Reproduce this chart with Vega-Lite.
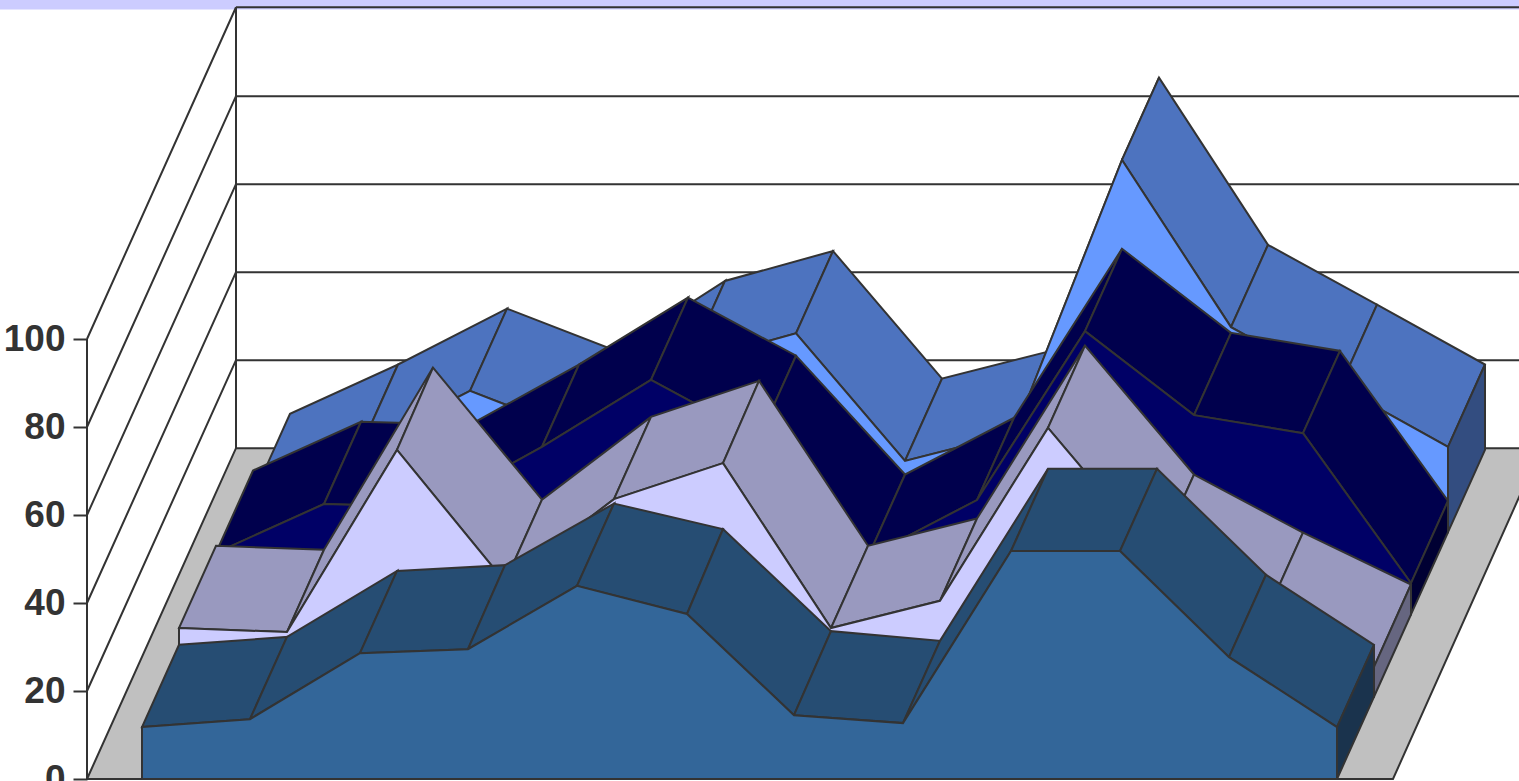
{"$schema":"https://vega.github.io/schema/vega-lite/v6.json","width":1519,"height":781,"autosize":"none","padding":0,"background":"#ffffff","view":{"stroke":null},
"data":{"values":[
{"f":"w00","k":"band","x":-5,"y":174.9},{"f":"w00","k":"band","x":1525,"y":174.9},{"f":"w00","k":"band","x":1525,"y":179},{"f":"w00","k":"band","x":-5,"y":179},
{"f":"w01","k":"floor","x":87,"y":0},{"f":"w01","k":"floor","x":236,"y":75.2},{"f":"w01","k":"floor","x":1541,"y":75.2},{"f":"w01","k":"floor","x":1393,"y":0},
{"f":"w02","k":"wall","x":87,"y":0},{"f":"w02","k":"wall","x":87,"y":100},
{"f":"w03","k":"wall","x":236,"y":75.2},{"f":"w03","k":"wall","x":236,"y":175.4},
{"f":"w04","k":"wall","x":87,"y":20},{"f":"w04","k":"wall","x":236,"y":95.2},
{"f":"w05","k":"wall","x":87,"y":40},{"f":"w05","k":"wall","x":236,"y":115.2},
{"f":"w06","k":"wall","x":87,"y":60},{"f":"w06","k":"wall","x":236,"y":135.2},
{"f":"w07","k":"wall","x":87,"y":80},{"f":"w07","k":"wall","x":236,"y":155.2},
{"f":"w08","k":"wall","x":87,"y":100},{"f":"w08","k":"wall","x":236,"y":175.4},
{"f":"w09","k":"wall","x":236,"y":95.2},{"f":"w09","k":"wall","x":1541,"y":95.2},
{"f":"w10","k":"wall","x":236,"y":115.2},{"f":"w10","k":"wall","x":1541,"y":115.2},
{"f":"w11","k":"wall","x":236,"y":135.2},{"f":"w11","k":"wall","x":1541,"y":135.2},
{"f":"w12","k":"wall","x":236,"y":155.2},{"f":"w12","k":"wall","x":1541,"y":155.2},
{"f":"w13","k":"wall","x":236,"y":175.4},{"f":"w13","k":"wall","x":1541,"y":175.4},

{"f":"d01","k":"Dt","x":253,"y":64.3},{"f":"d01","k":"Dt","x":361,"y":75.5},{"f":"d01","k":"Dt","x":398,"y":94.2},{"f":"d01","k":"Dt","x":290,"y":83.0},
{"f":"d02","k":"Dt","x":361,"y":75.5},{"f":"d02","k":"Dt","x":470,"y":88.2},{"f":"d02","k":"Dt","x":507,"y":106.9},{"f":"d02","k":"Dt","x":398,"y":94.2},
{"f":"d03","k":"Dt","x":470,"y":88.2},{"f":"d03","k":"Dt","x":579,"y":78.6},{"f":"d03","k":"Dt","x":616,"y":97.3},{"f":"d03","k":"Dt","x":507,"y":106.9},
{"f":"d04","k":"Dt","x":579,"y":78.6},{"f":"d04","k":"Dt","x":688,"y":94.5},{"f":"d04","k":"Dt","x":725,"y":113.2},{"f":"d04","k":"Dt","x":616,"y":97.3},
{"f":"d05","k":"Dt","x":688,"y":94.5},{"f":"d05","k":"Dt","x":796,"y":101.3},{"f":"d05","k":"Dt","x":833,"y":120},{"f":"d05","k":"Dt","x":725,"y":113.2},
{"f":"d06","k":"Dt","x":796,"y":101.3},{"f":"d06","k":"Dt","x":905,"y":72.3},{"f":"d06","k":"Dt","x":942,"y":91.0},{"f":"d06","k":"Dt","x":833,"y":120},
{"f":"d07","k":"Dt","x":905,"y":72.3},{"f":"d07","k":"Dt","x":1014,"y":78.6},{"f":"d07","k":"Dt","x":1051,"y":97.3},{"f":"d07","k":"Dt","x":942,"y":91.0},
{"f":"d08","k":"Dt","x":1014,"y":78.6},{"f":"d08","k":"Dt","x":1122,"y":140.7},{"f":"d08","k":"Dt","x":1159,"y":159.4},{"f":"d08","k":"Dt","x":1051,"y":97.3},
{"f":"d09","k":"Dt","x":1122,"y":140.7},{"f":"d09","k":"Dt","x":1231,"y":102.7},{"f":"d09","k":"Dt","x":1268,"y":121.4},{"f":"d09","k":"Dt","x":1159,"y":159.4},
{"f":"d10","k":"Dt","x":1231,"y":102.7},{"f":"d10","k":"Dt","x":1340,"y":89.1},{"f":"d10","k":"Dt","x":1377,"y":107.8},{"f":"d10","k":"Dt","x":1268,"y":121.4},
{"f":"d11","k":"Dt","x":1340,"y":89.1},{"f":"d11","k":"Dt","x":1448,"y":75.5},{"f":"d11","k":"Dt","x":1485,"y":94.2},{"f":"d11","k":"Dt","x":1377,"y":107.8},
{"f":"d12","k":"Ds","x":1448,"y":75.5},{"f":"d12","k":"Ds","x":1485,"y":94.2},{"f":"d12","k":"Ds","x":1485,"y":74.8},{"f":"d12","k":"Ds","x":1448,"y":56.1},
{"f":"d13","k":"Df","x":253,"y":64.3},{"f":"d13","k":"Df","x":361,"y":75.5},{"f":"d13","k":"Df","x":470,"y":88.2},{"f":"d13","k":"Df","x":579,"y":78.6},{"f":"d13","k":"Df","x":688,"y":94.5},{"f":"d13","k":"Df","x":796,"y":101.3},{"f":"d13","k":"Df","x":905,"y":72.3},{"f":"d13","k":"Df","x":1014,"y":78.6},{"f":"d13","k":"Df","x":1122,"y":140.7},{"f":"d13","k":"Df","x":1231,"y":102.7},{"f":"d13","k":"Df","x":1340,"y":89.1},{"f":"d13","k":"Df","x":1448,"y":75.5},{"f":"d13","k":"Df","x":1448,"y":56.1},{"f":"d13","k":"Df","x":253,"y":56.1},

{"f":"c01","k":"Ct","x":216,"y":51.4},{"f":"c01","k":"Ct","x":324,"y":62.5},{"f":"c01","k":"Ct","x":361,"y":81.2},{"f":"c01","k":"Ct","x":253,"y":70.1},
{"f":"c02","k":"Ct","x":324,"y":62.5},{"f":"c02","k":"Ct","x":433,"y":61.8},{"f":"c02","k":"Ct","x":470,"y":80.5},{"f":"c02","k":"Ct","x":361,"y":81.2},
{"f":"c03","k":"Ct","x":433,"y":61.8},{"f":"c03","k":"Ct","x":542,"y":75.5},{"f":"c03","k":"Ct","x":579,"y":94.2},{"f":"c03","k":"Ct","x":470,"y":80.5},
{"f":"c04","k":"Ct","x":542,"y":75.5},{"f":"c04","k":"Ct","x":651,"y":90.7},{"f":"c04","k":"Ct","x":688,"y":109.4},{"f":"c04","k":"Ct","x":579,"y":94.2},
{"f":"c05","k":"Ct","x":651,"y":90.7},{"f":"c05","k":"Ct","x":759,"y":77.5},{"f":"c05","k":"Ct","x":796,"y":96.2},{"f":"c05","k":"Ct","x":688,"y":109.4},
{"f":"c06","k":"Ct","x":759,"y":77.5},{"f":"c06","k":"Ct","x":868,"y":50.5},{"f":"c06","k":"Ct","x":905,"y":69.2},{"f":"c06","k":"Ct","x":796,"y":96.2},
{"f":"c07","k":"Ct","x":868,"y":50.5},{"f":"c07","k":"Ct","x":977,"y":63.4},{"f":"c07","k":"Ct","x":1014,"y":82.1},{"f":"c07","k":"Ct","x":905,"y":69.2},
{"f":"c08","k":"Ct","x":977,"y":63.4},{"f":"c08","k":"Ct","x":1085,"y":101.8},{"f":"c08","k":"Ct","x":1122,"y":120.5},{"f":"c08","k":"Ct","x":1014,"y":82.1},
{"f":"c09","k":"Ct","x":1085,"y":101.8},{"f":"c09","k":"Ct","x":1194,"y":82.7},{"f":"c09","k":"Ct","x":1231,"y":101.4},{"f":"c09","k":"Ct","x":1122,"y":120.5},
{"f":"c10","k":"Ct","x":1194,"y":82.7},{"f":"c10","k":"Ct","x":1303,"y":78.6},{"f":"c10","k":"Ct","x":1340,"y":97.3},{"f":"c10","k":"Ct","x":1231,"y":101.4},
{"f":"c11","k":"Ct","x":1303,"y":78.6},{"f":"c11","k":"Ct","x":1411,"y":44.5},{"f":"c11","k":"Ct","x":1448,"y":63.2},{"f":"c11","k":"Ct","x":1340,"y":97.3},
{"f":"c12","k":"Cs","x":1411,"y":44.5},{"f":"c12","k":"Cs","x":1448,"y":63.2},{"f":"c12","k":"Cs","x":1448,"y":56.1},{"f":"c12","k":"Cs","x":1411,"y":37.4},
{"f":"c13","k":"Cf","x":216,"y":51.4},{"f":"c13","k":"Cf","x":324,"y":62.5},{"f":"c13","k":"Cf","x":433,"y":61.8},{"f":"c13","k":"Cf","x":542,"y":75.5},{"f":"c13","k":"Cf","x":651,"y":90.7},{"f":"c13","k":"Cf","x":759,"y":77.5},{"f":"c13","k":"Cf","x":868,"y":50.5},{"f":"c13","k":"Cf","x":977,"y":63.4},{"f":"c13","k":"Cf","x":1085,"y":101.8},{"f":"c13","k":"Cf","x":1194,"y":82.7},{"f":"c13","k":"Cf","x":1303,"y":78.6},{"f":"c13","k":"Cf","x":1411,"y":44.5},{"f":"c13","k":"Cf","x":1411,"y":37.4},{"f":"c13","k":"Cf","x":216,"y":37.4},

{"f":"b01","k":"Bt","x":179,"y":34.3},{"f":"b01","k":"Bt","x":287,"y":33.4},{"f":"b01","k":"Bt","x":324,"y":52.1},{"f":"b01","k":"Bt","x":216,"y":53.0},
{"f":"b02","k":"Bt","x":287,"y":33.4},{"f":"b02","k":"Bt","x":397,"y":74.8},{"f":"b02","k":"Bt","x":433,"y":93.5},{"f":"b02","k":"Bt","x":324,"y":52.1},
{"f":"b03","k":"Bt","x":397,"y":74.8},{"f":"b03","k":"Bt","x":505,"y":44.8},{"f":"b03","k":"Bt","x":542,"y":63.5},{"f":"b03","k":"Bt","x":433,"y":93.5},
{"f":"b04","k":"Bt","x":505,"y":44.8},{"f":"b04","k":"Bt","x":614,"y":63.6},{"f":"b04","k":"Bt","x":651,"y":82.3},{"f":"b04","k":"Bt","x":542,"y":63.5},
{"f":"b05","k":"Bt","x":614,"y":63.6},{"f":"b05","k":"Bt","x":723,"y":71.8},{"f":"b05","k":"Bt","x":759,"y":90.5},{"f":"b05","k":"Bt","x":651,"y":82.3},
{"f":"b06","k":"Bt","x":723,"y":71.8},{"f":"b06","k":"Bt","x":831,"y":34.3},{"f":"b06","k":"Bt","x":868,"y":53.0},{"f":"b06","k":"Bt","x":759,"y":90.5},
{"f":"b07","k":"Bt","x":831,"y":34.3},{"f":"b07","k":"Bt","x":940,"y":40.5},{"f":"b07","k":"Bt","x":977,"y":59.2},{"f":"b07","k":"Bt","x":868,"y":53.0},
{"f":"b08","k":"Bt","x":940,"y":40.5},{"f":"b08","k":"Bt","x":1048,"y":79.8},{"f":"b08","k":"Bt","x":1085,"y":98.5},{"f":"b08","k":"Bt","x":977,"y":59.2},
{"f":"b09","k":"Bt","x":1048,"y":79.8},{"f":"b09","k":"Bt","x":1157,"y":50.5},{"f":"b09","k":"Bt","x":1194,"y":69.2},{"f":"b09","k":"Bt","x":1085,"y":98.5},
{"f":"b10","k":"Bt","x":1157,"y":50.5},{"f":"b10","k":"Bt","x":1266,"y":37.3},{"f":"b10","k":"Bt","x":1303,"y":56.0},{"f":"b10","k":"Bt","x":1194,"y":69.2},
{"f":"b11","k":"Bt","x":1266,"y":37.3},{"f":"b11","k":"Bt","x":1374,"y":25.5},{"f":"b11","k":"Bt","x":1411,"y":44.2},{"f":"b11","k":"Bt","x":1303,"y":56.0},
{"f":"b12","k":"Bs","x":1374,"y":25.5},{"f":"b12","k":"Bs","x":1411,"y":44.2},{"f":"b12","k":"Bs","x":1411,"y":37.4},{"f":"b12","k":"Bs","x":1374,"y":18.7},
{"f":"b13","k":"Bf","x":179,"y":34.3},{"f":"b13","k":"Bf","x":287,"y":33.4},{"f":"b13","k":"Bf","x":397,"y":74.8},{"f":"b13","k":"Bf","x":505,"y":44.8},{"f":"b13","k":"Bf","x":614,"y":63.6},{"f":"b13","k":"Bf","x":723,"y":71.8},{"f":"b13","k":"Bf","x":831,"y":34.3},{"f":"b13","k":"Bf","x":940,"y":40.5},{"f":"b13","k":"Bf","x":1048,"y":79.8},{"f":"b13","k":"Bf","x":1157,"y":50.5},{"f":"b13","k":"Bf","x":1266,"y":37.3},{"f":"b13","k":"Bf","x":1374,"y":25.5},{"f":"b13","k":"Bf","x":1374,"y":18.7},{"f":"b13","k":"Bf","x":179,"y":18.7},

{"f":"a01","k":"At","x":142,"y":11.8},{"f":"a01","k":"At","x":250,"y":13.6},{"f":"a01","k":"At","x":287,"y":32.3},{"f":"a01","k":"At","x":179,"y":30.5},
{"f":"a02","k":"At","x":250,"y":13.6},{"f":"a02","k":"At","x":360,"y":28.6},{"f":"a02","k":"At","x":397,"y":47.3},{"f":"a02","k":"At","x":287,"y":32.3},
{"f":"a03","k":"At","x":360,"y":28.6},{"f":"a03","k":"At","x":468,"y":29.5},{"f":"a03","k":"At","x":505,"y":48.6},{"f":"a03","k":"At","x":397,"y":47.3},
{"f":"a04","k":"At","x":468,"y":29.5},{"f":"a04","k":"At","x":577,"y":43.9},{"f":"a04","k":"At","x":614,"y":62.6},{"f":"a04","k":"At","x":505,"y":48.6},
{"f":"a05","k":"At","x":577,"y":43.9},{"f":"a05","k":"At","x":687,"y":37.5},{"f":"a05","k":"At","x":723,"y":56.8},{"f":"a05","k":"At","x":614,"y":62.6},
{"f":"a06","k":"At","x":687,"y":37.5},{"f":"a06","k":"At","x":794,"y":14.5},{"f":"a06","k":"At","x":831,"y":33.6},{"f":"a06","k":"At","x":723,"y":56.8},
{"f":"a07","k":"At","x":794,"y":14.5},{"f":"a07","k":"At","x":903,"y":12.7},{"f":"a07","k":"At","x":940,"y":31.4},{"f":"a07","k":"At","x":831,"y":33.6},
{"f":"a08","k":"At","x":903,"y":12.7},{"f":"a08","k":"At","x":1011,"y":51.8},{"f":"a08","k":"At","x":1048,"y":70.5},{"f":"a08","k":"At","x":940,"y":31.4},
{"f":"a09","k":"At","x":1011,"y":51.8},{"f":"a09","k":"At","x":1120,"y":51.8},{"f":"a09","k":"At","x":1157,"y":70.5},{"f":"a09","k":"At","x":1048,"y":70.5},
{"f":"a10","k":"At","x":1120,"y":51.8},{"f":"a10","k":"At","x":1229,"y":27.7},{"f":"a10","k":"At","x":1266,"y":46.4},{"f":"a10","k":"At","x":1157,"y":70.5},
{"f":"a11","k":"At","x":1229,"y":27.7},{"f":"a11","k":"At","x":1337,"y":11.8},{"f":"a11","k":"At","x":1374,"y":30.5},{"f":"a11","k":"At","x":1266,"y":46.4},
{"f":"a12","k":"As","x":1337,"y":11.8},{"f":"a12","k":"As","x":1374,"y":30.5},{"f":"a12","k":"As","x":1374,"y":18.7},{"f":"a12","k":"As","x":1337,"y":0},
{"f":"a13","k":"Af","x":142,"y":11.8},{"f":"a13","k":"Af","x":250,"y":13.6},{"f":"a13","k":"Af","x":360,"y":28.6},{"f":"a13","k":"Af","x":468,"y":29.5},{"f":"a13","k":"Af","x":577,"y":43.9},{"f":"a13","k":"Af","x":687,"y":37.5},{"f":"a13","k":"Af","x":794,"y":14.5},{"f":"a13","k":"Af","x":903,"y":12.7},{"f":"a13","k":"Af","x":1011,"y":51.8},{"f":"a13","k":"Af","x":1120,"y":51.8},{"f":"a13","k":"Af","x":1229,"y":27.7},{"f":"a13","k":"Af","x":1337,"y":11.8},{"f":"a13","k":"Af","x":1337,"y":0},{"f":"a13","k":"Af","x":142,"y":0}
]},
"mark":{"type":"line","filled":true,"interpolate":"linear-closed","strokeWidth":2,"clip":true},
"encoding":{
"x":{"field":"x","type":"quantitative","axis":null,"scale":{"domain":[0,1519],"nice":false,"zero":false}},
"y":{"field":"y","type":"quantitative","scale":{"domain":[-0.4545,177.05],"nice":false,"zero":false},"axis":{"values":[0,20,40,60,80,100],"title":null,"domain":false,"grid":false,"offset":-87,"tickSize":14,"tickColor":"#333333","tickWidth":2,"labelPadding":8,"labelFont":"Liberation Sans","labelFontWeight":"bold","labelFontSize":37,"labelColor":"#333333","labelBound":false,"labelFlush":false,"labelOverlap":false,"zindex":1}},
"detail":{"field":"f"},
"order":{"value":null},
"stroke":{"condition":{"test":"datum.k==='band'","value":"transparent"},"value":"#333333"},
"fill":{"field":"k","type":"nominal","legend":null,"scale":{"domain":["band","floor","wall","At","Af","As","Bt","Bf","Bs","Ct","Cf","Cs","Dt","Df","Ds"],"range":["#CCCCFF","#C0C0C0","transparent","#264D73","#336699","#1A334D","#9999BF","#CCCCFF","#666680","#00004D","#000066","#000033","#4D73BF","#6699FF","#334D80"]}}
}}
